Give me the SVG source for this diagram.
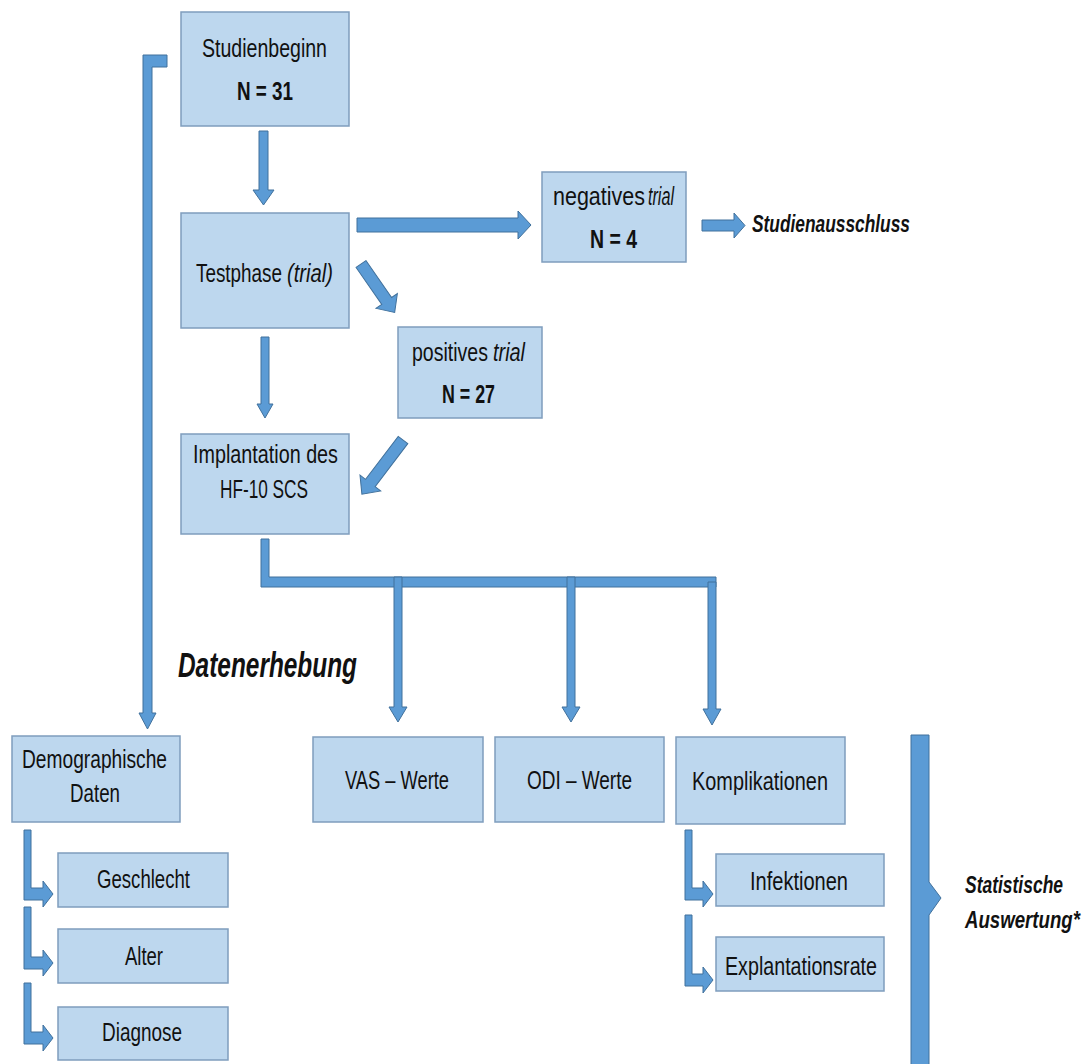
<svg xmlns="http://www.w3.org/2000/svg" width="1088" height="1064" viewBox="0 0 1088 1064">
<style>
.box{fill:#BDD7EE;stroke:#7F9DBD;stroke-width:1.5}
.arr{fill:#5B9BD5;stroke:#41719C;stroke-width:1}
text{font-family:"Liberation Sans Narrow","Liberation Sans",Arial,sans-serif;font-size:26px;fill:#111}
.b{font-weight:bold}
.bi{font-weight:bold;font-style:italic;font-size:24px}
.i{font-style:italic}
</style>
<rect width="1088" height="1064" fill="#fff"/>
<g id="connectors">
<polygon class="arr" points="143,55 167,55 167,67 152,67 152,713 156,713 147.5,729 139,713 143,713"/>
<polygon class="arr" points="259,131 268,131 268,190 274,190 263.5,205 253,190 259,190"/>
<polygon class="arr" points="357,218 518,218 518,211 531,225 518,239 518,232 357,232"/>
<polygon class="arr" points="702,220 734,220 734,213 745,225.5 734,238 734,231 702,231"/>
<polygon class="arr" transform="translate(361,264) rotate(55.2)" points="0,-6 45,-6 45,-13 59,0 45,13 45,6 0,6"/>
<polygon class="arr" points="261,337 269,337 269,404 273,404 265,418 257,404 261,404"/>
<polygon class="arr" transform="translate(403,440) rotate(127.2)" points="0,-6 54,-6 54,-13 68,0 54,13 54,6 0,6"/>
<polygon class="arr" points="261,539 269,539 269,577 716,577 716,587 261,587"/>
<polygon class="arr" points="394,577 402,577 402,707 407,707 398,722 389,707 394,707"/>
<polygon class="arr" points="567,577 575,577 575,707 580,707 571,722 562,707 567,707"/>
<polygon class="arr" points="708,582 716,582 716,709 721,709 712,725 703,709 708,709"/>
<polygon class="arr" points="24,830 31,830 31,888 43,888 43,881 53,894 43,907 43,900 24,900"/>
<polygon class="arr" points="24,907 31,907 31,957 43,957 43,950 53,963 43,976 43,969 24,969"/>
<polygon class="arr" points="24,983 31,983 31,1032 43,1032 43,1025 53,1038 43,1051 43,1044 24,1044"/>
<polygon class="arr" points="685,830 692,830 692,888 703,888 703,881 713,894 703,907 703,900 685,900"/>
<polygon class="arr" points="685,915 692,915 692,974 703,974 703,967 713,980 703,993 703,986 685,986"/>
<polygon class="arr" points="911,735 929,735 929,882 941,898 929,915 929,1070 911,1070"/>
</g>
<g id="studienbeginn">
<rect class="box" x="181" y="12" width="168" height="114"/>
<text x="202" y="57" textLength="125" lengthAdjust="spacingAndGlyphs">Studienbeginn</text>
<text class="b" x="237" y="100" textLength="56" lengthAdjust="spacingAndGlyphs">N = 31</text>
</g>
<g id="testphase">
<rect class="box" x="181" y="213" width="168" height="115"/>
<text transform="translate(196,282) scale(0.75,1)" textLength="114.7" lengthAdjust="spacingAndGlyphs">Testphase</text>
<text class="i" transform="translate(287,282) scale(0.75,1)" textLength="61.3" lengthAdjust="spacingAndGlyphs">(trial)</text>
</g>
<g id="negatives">
<rect class="box" x="542" y="172" width="144" height="90"/>
<text transform="translate(553,205) scale(0.75,1)" textLength="122.7" lengthAdjust="spacingAndGlyphs">negatives</text>
<text class="i" transform="translate(648,205) scale(0.75,1)" textLength="34.7" lengthAdjust="spacingAndGlyphs">trial</text>
<text class="b" x="590" y="248" textLength="47" lengthAdjust="spacingAndGlyphs">N = 4</text>
</g>
<g id="studienausschluss">
<text class="bi" x="752" y="232" textLength="158" lengthAdjust="spacingAndGlyphs">Studienausschluss</text>
</g>
<g id="positives">
<rect class="box" x="398" y="327" width="144" height="91"/>
<text transform="translate(412,361) scale(0.75,1)" textLength="101.3" lengthAdjust="spacingAndGlyphs">positives</text>
<text class="i" transform="translate(493,361) scale(0.75,1)" textLength="42.7" lengthAdjust="spacingAndGlyphs">trial</text>
<text class="b" x="442" y="403" textLength="53" lengthAdjust="spacingAndGlyphs">N = 27</text>
</g>
<g id="implantation">
<rect class="box" x="181" y="434" width="168" height="100"/>
<text x="193" y="463" textLength="145" lengthAdjust="spacingAndGlyphs">Implantation des</text>
<text x="220" y="498" textLength="88" lengthAdjust="spacingAndGlyphs">HF-10 SCS</text>
</g>
<g id="datenerhebung">
<text class="bi" x="178" y="677" textLength="179" lengthAdjust="spacingAndGlyphs" style="font-size:35px">Datenerhebung</text>
</g>
<g id="demographische">
<rect class="box" x="12" y="736" width="168" height="86"/>
<text x="22" y="768" textLength="145" lengthAdjust="spacingAndGlyphs">Demographische</text>
<text x="70" y="802" textLength="50" lengthAdjust="spacingAndGlyphs">Daten</text>
</g>
<g id="geschlecht">
<rect class="box" x="58" y="853" width="170" height="54"/>
<text x="97" y="888" textLength="93" lengthAdjust="spacingAndGlyphs">Geschlecht</text>
</g>
<g id="alter">
<rect class="box" x="58" y="929" width="170" height="54"/>
<text x="125" y="965" textLength="38" lengthAdjust="spacingAndGlyphs">Alter</text>
</g>
<g id="diagnose">
<rect class="box" x="58" y="1007" width="170" height="53"/>
<text x="102" y="1041" textLength="80" lengthAdjust="spacingAndGlyphs">Diagnose</text>
</g>
<g id="vas">
<rect class="box" x="313" y="737" width="170" height="85"/>
<text x="345" y="789" textLength="104" lengthAdjust="spacingAndGlyphs">VAS – Werte</text>
</g>
<g id="odi">
<rect class="box" x="495" y="737" width="169" height="85"/>
<text x="527" y="789" textLength="105" lengthAdjust="spacingAndGlyphs">ODI – Werte</text>
</g>
<g id="komplikationen">
<rect class="box" x="676" y="737" width="169" height="87"/>
<text x="692" y="790" textLength="136" lengthAdjust="spacingAndGlyphs">Komplikationen</text>
</g>
<g id="infektionen">
<rect class="box" x="716" y="854" width="168" height="52"/>
<text x="750" y="890" textLength="98" lengthAdjust="spacingAndGlyphs">Infektionen</text>
</g>
<g id="explantationsrate">
<rect class="box" x="716" y="937" width="168" height="54"/>
<text x="725" y="975" textLength="152" lengthAdjust="spacingAndGlyphs">Explantationsrate</text>
</g>
<g id="statistische">
<text class="bi" transform="translate(965,893) scale(0.75,1)" textLength="130.7" lengthAdjust="spacingAndGlyphs">Statistische</text>
<text class="bi" transform="translate(965,928) scale(0.75,1)" textLength="153.3" lengthAdjust="spacingAndGlyphs">Auswertung*</text>
</g>
</svg>
